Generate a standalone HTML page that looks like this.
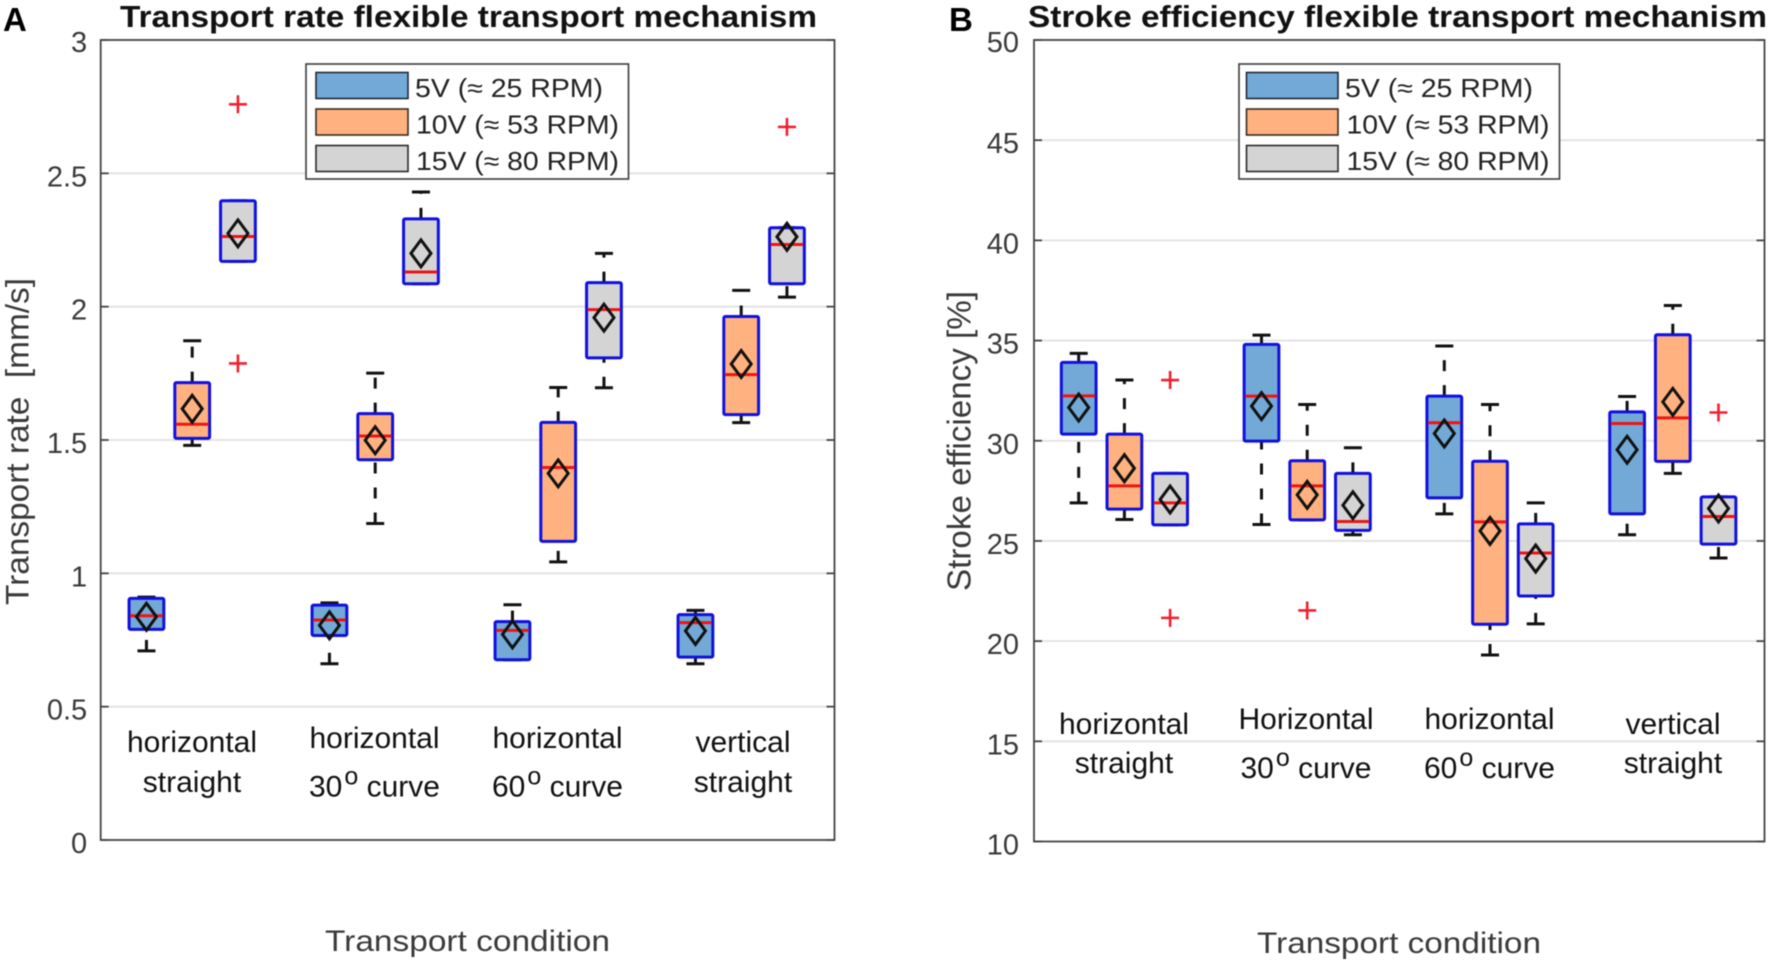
<!DOCTYPE html>
<html lang="en">
<head>
<meta charset="utf-8">
<title>Flexible transport mechanism box plots</title>
<style>
html,body{margin:0;padding:0;background:#fff;}
body{width:1772px;height:964px;overflow:hidden;}
svg{display:block;font-family:"Liberation Sans",sans-serif;filter:blur(0.4px);}
</style>
</head>
<body>
<svg id="fig" width="1772" height="964" viewBox="0 0 1772 964" xmlns="http://www.w3.org/2000/svg">
  <rect width="1772" height="964" fill="#fff"/>
  <g id="panelA"></g>
  <g id="panelB"></g>

  <text x="3" y="31" font-size="33" font-weight="700" fill="#000">A</text>
  <text x="120" y="27" font-size="31" font-weight="700" fill="#111" textLength="697" lengthAdjust="spacingAndGlyphs">Transport rate flexible transport mechanism</text>
  <text transform="translate(28.5,605) rotate(-90)" font-size="32" fill="#3a3a3a" textLength="327" lengthAdjust="spacingAndGlyphs" xml:space="preserve">Transport rate  [mm/s]</text>
  <text x="325" y="951" font-size="30" fill="#3a3a3a" textLength="285" lengthAdjust="spacingAndGlyphs">Transport condition</text>

  <text x="949" y="31" font-size="33" font-weight="700" fill="#000">B</text>
  <text x="1028" y="27" font-size="31" font-weight="700" fill="#111" textLength="739" lengthAdjust="spacingAndGlyphs">Stroke efficiency flexible transport mechanism</text>
  <text transform="translate(970.5,591) rotate(-90)" font-size="33" fill="#3a3a3a" textLength="300" lengthAdjust="spacingAndGlyphs">Stroke efficiency [%]</text>
  <text x="1257" y="953" font-size="30" fill="#3a3a3a" textLength="284" lengthAdjust="spacingAndGlyphs">Transport condition</text>

  <g font-size="30" fill="#111" text-anchor="middle">
    <text x="192" y="752">horizontal</text>
    <text x="192" y="792">straight</text>
    <text x="374.5" y="748">horizontal</text>
    <text x="374.5" y="796.5">30<tspan font-size="25" dx="2" dy="-12">o</tspan><tspan dy="12"> curve</tspan></text>
    <text x="557.5" y="748">horizontal</text>
    <text x="557.5" y="796.5">60<tspan font-size="25" dx="2" dy="-12">o</tspan><tspan dy="12"> curve</tspan></text>
    <text x="743" y="752">vertical</text>
    <text x="743" y="792">straight</text>
  </g>
  <g font-size="30" fill="#111" text-anchor="middle">
    <text x="1124" y="734">horizontal</text>
    <text x="1124" y="773">straight</text>
    <text x="1306" y="729">Horizontal</text>
    <text x="1306" y="778">30<tspan font-size="25" dx="2" dy="-12">o</tspan><tspan dy="12"> curve</tspan></text>
    <text x="1489.5" y="729">horizontal</text>
    <text x="1489.5" y="778">60<tspan font-size="25" dx="2" dy="-12">o</tspan><tspan dy="12"> curve</tspan></text>
    <text x="1673" y="734">vertical</text>
    <text x="1673" y="773">straight</text>
  </g>

  <g>
    <rect x="306" y="64" width="322.5" height="115" fill="#fff" stroke="#3c3c3c" stroke-width="1.6"/>
    <rect x="316" y="72.5" width="92" height="26" fill="#72a9d6" stroke="#1f2a38" stroke-width="1.6"/>
    <rect x="316" y="109" width="92" height="26" fill="#ffb27f" stroke="#3a2a20" stroke-width="1.6"/>
    <rect x="316" y="145.5" width="92" height="26" fill="#d4d4d4" stroke="#2a2a2a" stroke-width="1.6"/>
    <text x="415" y="97" font-size="26" fill="#222" textLength="188" lengthAdjust="spacingAndGlyphs">5V (≈ 25 RPM)</text>
    <text x="416" y="133.5" font-size="26" fill="#222" textLength="203" lengthAdjust="spacingAndGlyphs">10V (≈ 53 RPM)</text>
    <text x="416" y="170" font-size="26" fill="#222" textLength="203" lengthAdjust="spacingAndGlyphs">15V (≈ 80 RPM)</text>
  </g>
  <g>
    <rect x="1239" y="64" width="320.5" height="115" fill="#fff" stroke="#3c3c3c" stroke-width="1.6"/>
    <rect x="1246.5" y="72.5" width="91.5" height="26" fill="#72a9d6" stroke="#1f2a38" stroke-width="1.6"/>
    <rect x="1246.5" y="109" width="91.5" height="26" fill="#ffb27f" stroke="#3a2a20" stroke-width="1.6"/>
    <rect x="1246.5" y="145.5" width="91.5" height="26" fill="#d4d4d4" stroke="#2a2a2a" stroke-width="1.6"/>
    <text x="1345" y="97" font-size="26" fill="#222" textLength="188" lengthAdjust="spacingAndGlyphs">5V (≈ 25 RPM)</text>
    <text x="1346.5" y="133.5" font-size="26" fill="#222" textLength="203" lengthAdjust="spacingAndGlyphs">10V (≈ 53 RPM)</text>
    <text x="1346.5" y="170" font-size="26" fill="#222" textLength="203" lengthAdjust="spacingAndGlyphs">15V (≈ 80 RPM)</text>
  </g>
</svg>

<script>
// Box order: horizontal straight (5V,10V,15V), horizontal 30 curve, horizontal 60 curve, vertical straight
const boxPositions = [1,2,3, 5,6,7, 9,10,11, 13,14,15];
const boxFills = ['#72a9d6','#ffb27f','#d4d4d4','#72a9d6','#ffb27f','#d4d4d4','#72a9d6','#ffb27f','#d4d4d4','#72a9d6','#ffb27f','#d4d4d4'];

// Panel A: transport rate [mm/s]
const rateTicks = [0,0.5,1,1.5,2,2.5,3];
const rateTickLabels = ['0','0.5','1','1.5','2','2.5','3'];
const rateLow    = [0.709,1.480,2.170, 0.661,1.187,2.086, 0.676,1.043,1.696, 0.661,1.565,2.036];
const rateQ1     = [0.790,1.506,2.170, 0.767,1.426,2.086, 0.676,1.120,1.808, 0.686,1.595,2.086];
const rateMedian = [0.841,1.559,2.263, 0.825,1.515,2.130, 0.786,1.397,1.989, 0.815,1.745,2.233];
const rateQ3     = [0.906,1.715,2.397, 0.881,1.599,2.329, 0.819,1.566,2.090, 0.845,1.963,2.296];
const rateHigh   = [0.911,1.872,2.397, 0.889,1.751,2.430, 0.882,1.697,2.200, 0.861,2.061,2.296];
const rateMean   = [0.837,1.617,2.275, 0.805,1.499,2.200, 0.771,1.375,1.959, 0.784,1.785,2.262];
const rateOutlierBox   = [2,2,11];
const rateOutlierValue = [2.759,1.787,2.674];

// Panel B: stroke efficiency [%]
const strokeTicks = [10,15,20,25,30,35,40,45,50];
const strokeTickLabels = ['10','15','20','25','30','35','40','45','50'];
const strokeLow    = [26.90,26.07,25.80, 25.82,26.05,25.31, 26.35,19.31,20.86, 25.31,28.37,24.15];
const strokeQ1     = [30.33,26.59,25.80, 29.98,26.05,25.53, 27.15,20.84,22.25, 26.35,28.97,24.84];
const strokeMedian = [32.24,27.75,26.90, 32.23,27.75,25.97, 30.90,25.95,24.40, 30.86,31.14,26.22];
const strokeQ3     = [33.91,30.33,28.37, 34.81,29.00,28.37, 32.23,28.98,25.85, 31.44,35.29,27.20];
const strokeHigh   = [34.36,33.03,28.37, 35.27,31.81,29.65, 34.73,31.81,26.90, 32.21,36.75,27.20];
const strokeMean   = [31.66,28.63,27.07, 31.73,27.30,26.78, 30.36,25.50,24.12, 29.55,31.94,26.62];
const strokeOutlierBox   = [2,2,4,11];
const strokeOutlierValue = [33.03,21.16,21.53,31.41];

const NS = 'http://www.w3.org/2000/svg';
function make(parent, tag, attrs) {
  const el = document.createElementNS(NS, tag);
  for (const k in attrs) el.setAttribute(k, attrs[k]);
  parent.appendChild(el);
  return el;
}

function drawPanel(cfg) {
  const root = document.getElementById(cfg.id);
  const xS = p => cfg.xStart + cfg.xStep * p;
  const yS = v => cfg.bottom - (cfg.bottom - cfg.top) * (v - cfg.yMin) / (cfg.yMax - cfg.yMin);

  // gridlines
  cfg.ticks.forEach(function (t) {
    if (t === cfg.yMin || t === cfg.yMax) return;
    const g = make(root, 'line', {x1: cfg.left, x2: cfg.right, y1: yS(t), y2: yS(t), stroke: '#e2e2e2', 'stroke-width': 1.8});
    
    
  });

  // frame
  const frame = make(root, 'rect', {x: cfg.left, y: cfg.top, width: cfg.right - cfg.left, height: cfg.bottom - cfg.top, fill: 'none', stroke: '#444', 'stroke-width': 1.8});
  
  

  // ticks and tick labels
  cfg.ticks.forEach(function (t, i) {
    const y = yS(t);
    const a = make(root, 'line', {x1: cfg.left, x2: cfg.left + 8, y1: y, y2: y, stroke: '#444', 'stroke-width': 1.8});
    
    
    const b = make(root, 'line', {x1: cfg.right - 8, x2: cfg.right, y1: y, y2: y, stroke: '#444', 'stroke-width': 1.8});
    
    
    const lab = make(root, 'text', {x: cfg.left - cfg.labelGap, y: y + (t === cfg.yMax ? 12 : 13), 'text-anchor': 'end', 'font-size': 29, fill: '#3a3a3a'});
    lab.textContent = cfg.tickLabels[i];
    
    
  });

  // boxes
  boxPositions.forEach(function (p, i) {
    const cx = xS(p);
    const half = (xS(0.76) - xS(0)) / 2;
    const capHalf = 9;
    const group = make(root, 'g', {});
    
    

    const wl = make(group, 'line', {x1: cx, x2: cx, y1: yS(cfg.low[i]), y2: yS(cfg.q1[i]), stroke: '#111', 'stroke-width': 3, 'stroke-dasharray': '11 14'});
    
    
    const wh = make(group, 'line', {x1: cx, x2: cx, y1: yS(cfg.q3[i]), y2: yS(cfg.high[i]), stroke: '#111', 'stroke-width': 3, 'stroke-dasharray': '11 14'});
    
    
    const cl = make(group, 'line', {x1: cx - capHalf, x2: cx + capHalf, y1: yS(cfg.low[i]), y2: yS(cfg.low[i]), stroke: '#111', 'stroke-width': 3});
    
    
    const ch = make(group, 'line', {x1: cx - capHalf, x2: cx + capHalf, y1: yS(cfg.high[i]), y2: yS(cfg.high[i]), stroke: '#111', 'stroke-width': 3});
    
    

    const top = yS(cfg.q3[i]);
    const bot = yS(cfg.q1[i]);
    const box = make(group, 'rect', {x: cx - half, y: top, width: half * 2, height: bot - top, rx: 1.5, fill: boxFills[i], stroke: '#1010e0', 'stroke-width': 3});
    
    

    const med = make(group, 'line', {x1: cx - half + 1, x2: cx + half - 1, y1: yS(cfg.median[i]), y2: yS(cfg.median[i]), stroke: '#ee1414', 'stroke-width': 3});
    
    

    const my = yS(cfg.mean[i]);
    const dia = make(group, 'polygon', {points: [cx, my - 13.5, cx + 10, my, cx, my + 13.5, cx - 10, my].join(' '), fill: 'none', stroke: '#111', 'stroke-width': 3});
    
    
  });

  // outliers
  cfg.outlierValue.forEach(function (v, i) {
    const ox = xS(boxPositions[cfg.outlierBox[i]]);
    const oy = yS(v);
    const plus = make(root, 'path', {d: 'M' + (ox - 9) + ' ' + oy + 'H' + (ox + 9) + 'M' + ox + ' ' + (oy - 9) + 'V' + (oy + 9), stroke: '#f02030', 'stroke-width': 2.6, fill: 'none'});
    
    
  });
}

drawPanel({
  id: 'panelA', left: 100.7, right: 834.5, top: 40, bottom: 840, yMin: 0, yMax: 3,
  xStart: 100.7, xStep: 45.75, labelGap: 13.5,
  ticks: rateTicks, tickLabels: rateTickLabels,
  low: rateLow, q1: rateQ1, median: rateMedian, q3: rateQ3, high: rateHigh, mean: rateMean,
  outlierBox: rateOutlierBox, outlierValue: rateOutlierValue
});
drawPanel({
  id: 'panelB', left: 1034, right: 1764.5, top: 40, bottom: 841.5, yMin: 10, yMax: 50,
  xStart: 1033, xStep: 45.7, labelGap: 15,
  ticks: strokeTicks, tickLabels: strokeTickLabels,
  low: strokeLow, q1: strokeQ1, median: strokeMedian, q3: strokeQ3, high: strokeHigh, mean: strokeMean,
  outlierBox: strokeOutlierBox, outlierValue: strokeOutlierValue
});
</script>
</body>
</html>
